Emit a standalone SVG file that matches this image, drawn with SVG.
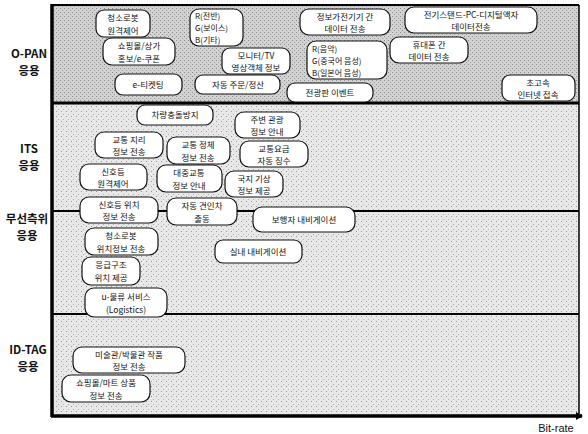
<svg xmlns="http://www.w3.org/2000/svg" width="588" height="434" viewBox="0 0 588 434">
<defs>
<pattern id="dots1" width="4" height="4" patternUnits="userSpaceOnUse">
<rect width="4" height="4" fill="#d2d2d2"/>
<rect x="0" y="0" width="1" height="1" fill="#8a8a8a"/>
<rect x="2" y="2" width="1" height="1" fill="#9a9a9a"/>
</pattern>
<pattern id="dots2" width="5" height="5" patternUnits="userSpaceOnUse">
<rect width="5" height="5" fill="#e8e8e8"/>
<rect x="1" y="1" width="1" height="1" fill="#9a9a9a"/>
<rect x="3" y="4" width="1" height="1" fill="#b0b0b0"/>
</pattern>
<marker id="arr" markerWidth="8" markerHeight="8" refX="6" refY="4" orient="auto" markerUnits="userSpaceOnUse">
<path d="M0,0 L7,4 L0,8 Z" fill="#000"/>
</marker>
</defs>
<style>
.box{fill:#fff;stroke:#111;stroke-width:1.2}
.t{font-family:"Noto Sans CJK KR","Noto Sans",sans-serif;font-size:8.5px;fill:#111;text-anchor:middle}
.ts{font-family:"Noto Sans CJK KR","Noto Sans",sans-serif;font-size:8px;fill:#111;text-anchor:start}
.lab{font-family:"Noto Sans CJK KR","Liberation Sans",sans-serif;font-size:11.5px;font-weight:bold;fill:#111;text-anchor:middle}
.axis{stroke:#000;fill:none}
</style>
<rect x="0" y="0" width="588" height="434" fill="#fff"/>
<g id="bands">
<rect x="52" y="5" width="527" height="98" fill="url(#dots1)"/>
<rect x="52" y="103" width="527" height="313" fill="url(#dots2)"/>
</g>
<g id="frame">
<line class="axis" x1="52" y1="5" x2="579" y2="5" stroke-width="2"/>
<line class="axis" x1="579" y1="5" x2="579" y2="416" stroke-width="1.5"/>
<line class="axis" x1="52" y1="103" x2="579" y2="103" stroke-width="3"/>
<line class="axis" x1="52" y1="211" x2="579" y2="211" stroke-width="2"/>
<line class="axis" x1="52" y1="314" x2="579" y2="314" stroke-width="2"/>
<line class="axis" x1="52" y1="4" x2="52" y2="417" stroke-width="3.5"/>
<line class="axis" x1="51" y1="416" x2="582" y2="416" stroke-width="3.5" marker-end="url(#arr)"/>
</g>
<g id="labels">
<text class="lab" x="29" y="58">O-PAN</text>
<text class="lab" x="29" y="75">응용</text>
<text class="lab" x="29" y="153">ITS</text>
<text class="lab" x="29" y="170">응용</text>
<text class="lab" x="27" y="223">무선측위</text>
<text class="lab" x="27" y="240">응용</text>
<text class="lab" x="28" y="354">ID-TAG</text>
<text class="lab" x="28" y="371">응용</text>
<text x="556" y="432" font-family="Liberation Sans, sans-serif" font-size="11" fill="#111" text-anchor="middle">Bit-rate</text>
</g>
<g id="connectors"></g>
<g id="n1"><rect class="box" x="96" y="10" width="54" height="27" rx="8"/><text class="t" x="123" y="21">청소로봇</text><text class="t" x="123" y="33.5">원격제어</text></g>
<g id="n2"><rect class="box" x="103" y="38" width="72" height="27" rx="9"/><text class="t" x="139" y="49">쇼핑몰/상가</text><text class="t" x="139" y="61.5">홍보/e-쿠폰</text></g>
<g id="n3"><rect class="box" x="115" y="74" width="67" height="21" rx="8"/><text class="t" x="148" y="87.5">e-티켓팅</text></g>
<g id="n4"><rect class="box" x="190" y="9" width="53" height="37" rx="9"/><text class="ts" x="195" y="19">R(전반)</text><text class="ts" x="195" y="31">G(보이스)</text><text class="ts" x="195" y="43">B(기타)</text></g>
<g id="n5"><rect class="box" x="222" y="48" width="68" height="26" rx="8"/><text class="t" x="256" y="58.5">모니터/TV</text><text class="t" x="256" y="71">영상객체 정보</text></g>
<g id="n6"><rect class="box" x="195" y="75" width="85" height="19" rx="8"/><text class="t" x="238" y="87.5">자동 주문/정산</text></g>
<g id="n7"><rect class="box" x="300" y="9" width="90" height="26" rx="9"/><text class="t" x="345" y="19.5">정보가전기기 간</text><text class="t" x="345" y="32">데이터 전송</text></g>
<g id="n8"><rect class="box" x="307" y="41" width="80" height="38" rx="9"/><text class="ts" x="312" y="51.5">R(음악)</text><text class="ts" x="312" y="63.5">G(중국어 음성)</text><text class="ts" x="312" y="75.5">B(일본어 음성)</text></g>
<g id="n9"><rect class="box" x="287" y="83" width="86" height="19" rx="8"/><text class="t" x="330" y="95.5">전광판 이벤트</text></g>
<g id="n10"><rect class="box" x="405" y="7" width="132" height="26" rx="9"/><text class="t" x="471" y="17.5">전기스탠드-PC-디지털액자</text><text class="t" x="471" y="30">데이터전송</text></g>
<g id="n11"><rect class="box" x="390" y="37" width="78" height="26" rx="9"/><text class="t" x="429" y="47.5">휴대폰 간</text><text class="t" x="429" y="60">데이터 전송</text></g>
<g id="n12"><rect class="box" x="502" y="75" width="73" height="26" rx="8"/><text class="t" x="538" y="85.5">초고속</text><text class="t" x="538" y="98">인터넷 접속</text></g>
<g id="n13"><rect class="box" x="137" y="105" width="76" height="20" rx="8"/><text class="t" x="175" y="118">차량충돌방지</text></g>
<g id="n14"><rect class="box" x="95" y="132" width="68" height="26" rx="9"/><text class="t" x="129" y="142.5">교통 지리</text><text class="t" x="129" y="155">정보 전송</text></g>
<g id="n15"><rect class="box" x="167" y="137" width="63" height="27" rx="9"/><text class="t" x="198" y="148">교통 정체</text><text class="t" x="198" y="160.5">정보 전송</text></g>
<g id="n16"><rect class="box" x="235" y="112" width="65" height="26" rx="9"/><text class="t" x="267" y="122.5">주변 관광</text><text class="t" x="267" y="135">정보 안내</text></g>
<g id="n17"><rect class="box" x="240" y="141" width="68" height="26" rx="9"/><text class="t" x="274" y="151.5">교통요금</text><text class="t" x="274" y="164">자동 징수</text></g>
<g id="n18"><rect class="box" x="80" y="164" width="67" height="26" rx="9"/><text class="t" x="113" y="174.5">신호등</text><text class="t" x="113" y="187">원격제어</text></g>
<g id="n19"><rect class="box" x="157" y="165" width="65" height="27" rx="9"/><text class="t" x="189" y="176">대중교통</text><text class="t" x="189" y="188.5">정보 안내</text></g>
<g id="n20"><rect class="box" x="225" y="171" width="58" height="26" rx="9"/><text class="t" x="254" y="181.5">국지 기상</text><text class="t" x="254" y="194">정보 제공</text></g>
<g id="n21"><rect class="box" x="80" y="197" width="78" height="26" rx="9"/><text class="t" x="119" y="207.5">신호등 위치</text><text class="t" x="119" y="220">정보 전송</text></g>
<g id="n22"><rect class="box" x="167" y="198" width="70" height="27" rx="9"/><text class="t" x="202" y="209">자동 견인차</text><text class="t" x="202" y="221.5">출동</text></g>
<g id="n23"><rect class="box" x="253" y="207" width="102" height="25" rx="9"/><text class="t" x="304" y="222.5">보행자 내비게이션</text></g>
<g id="n24"><rect class="box" x="85" y="228" width="73" height="27" rx="9"/><text class="t" x="121" y="239">청소로봇</text><text class="t" x="121" y="251.5">위치정보 전송</text></g>
<g id="n25"><rect class="box" x="215" y="240" width="87" height="23" rx="8"/><text class="t" x="258" y="254.5">실내 내비게이션</text></g>
<g id="n26"><rect class="box" x="82" y="257" width="58" height="28" rx="9"/><text class="t" x="111" y="268">응급구조</text><text class="t" x="111" y="281">위치 제공</text></g>
<g id="n27"><rect class="box" x="85" y="288" width="82" height="29" rx="9"/><text class="t" x="126" y="299.5">u-물류 서비스</text><text class="t" x="126" y="312.5">(Logistics)</text></g>
<g id="n28"><rect class="box" x="73" y="347" width="112" height="26" rx="9"/><text class="t" x="129" y="357.5">미술관/박물관  작품</text><text class="t" x="129" y="370">정보 전송</text></g>
<g id="n29"><rect class="box" x="62" y="375" width="88" height="27" rx="9"/><text class="t" x="106" y="386">쇼핑몰/마트 상품</text><text class="t" x="106" y="398.5">정보 전송</text></g>
</svg>
